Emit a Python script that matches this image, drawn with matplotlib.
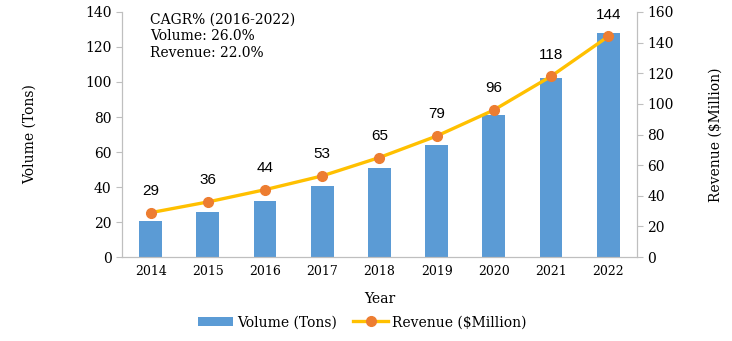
import numpy as np
import matplotlib
matplotlib.use("Agg")
import matplotlib.pyplot as plt

years = ["2014", "2015", "2016", "2017", "2018", "2019", "2020", "2021", "2022"]
volume_tons = [20.5, 25.5, 32, 40.5, 51, 64, 81, 102, 128]
revenue_musd = [29, 36, 44, 53, 65, 79, 96, 118, 144]

plt.rcParams["font.family"] = "serif"
plt.rcParams["font.serif"] = ["DejaVu Serif"]
plt.rcParams["font.size"] = 10
grey = "#bfbfbf"

fig = plt.figure(figsize=(7.32, 3.41), dpi=100)
ax = fig.add_axes([0.1667, 0.246, 0.7033, 0.719])
ax2 = ax.twinx()

x = np.arange(len(years))
ax.bar(x, volume_tons, width=0.4, color="#5b9bd5", label="Volume (Tons)", zorder=2)
ax2.plot(x, revenue_musd, color="#ffc000", lw=2.4, marker="o", ms=7,
         mfc="#ed7d31", mec="#ed7d31", label="Revenue ($Million)", zorder=3)
for xi, v in zip(x, revenue_musd):
    ax2.annotate(str(v), (xi, v), xytext=(0, 10.5), textcoords="offset points",
                 ha="center", va="bottom", fontsize=11, family="Liberation Sans")

ax.set_xlim(-0.5, len(years) - 0.5)
ax.set_ylim(0, 140)
ax.set_yticks(range(0, 141, 20))
ax2.set_ylim(0, 160)
ax2.set_yticks(range(0, 161, 20))
ax.set_xticks(x, years)

for a in (ax, ax2):
    a.spines["top"].set_visible(False)
    for s in ("left", "right", "bottom"):
        a.spines[s].set_color(grey)
    a.tick_params(axis="y", colors=grey, length=4, labelcolor="black", labelsize=10)
ax.tick_params(axis="x", length=0, pad=6, labelsize=9)

ax.set_ylabel("Volume (Tons)", labelpad=35)
ax2.set_ylabel("Revenue ($Million)", labelpad=25)
ax.set_xlabel("Year", labelpad=10)

ax.text(0.055, 0.995, "CAGR% (2016-2022)\nVolume: 26.0%\nRevenue: 22.0%",
        transform=ax.transAxes, ha="left", va="top", linespacing=1.2)

h1, l1 = ax.get_legend_handles_labels()
h2, l2 = ax2.get_legend_handles_labels()
fig.legend(h1 + h2, l1 + l2, loc="center", bbox_to_anchor=(0.495, 0.055),
           ncol=2, frameon=False, handlelength=2.5, columnspacing=1.2,
           handletextpad=0.3)

fig.savefig("out.png", dpi=100)
